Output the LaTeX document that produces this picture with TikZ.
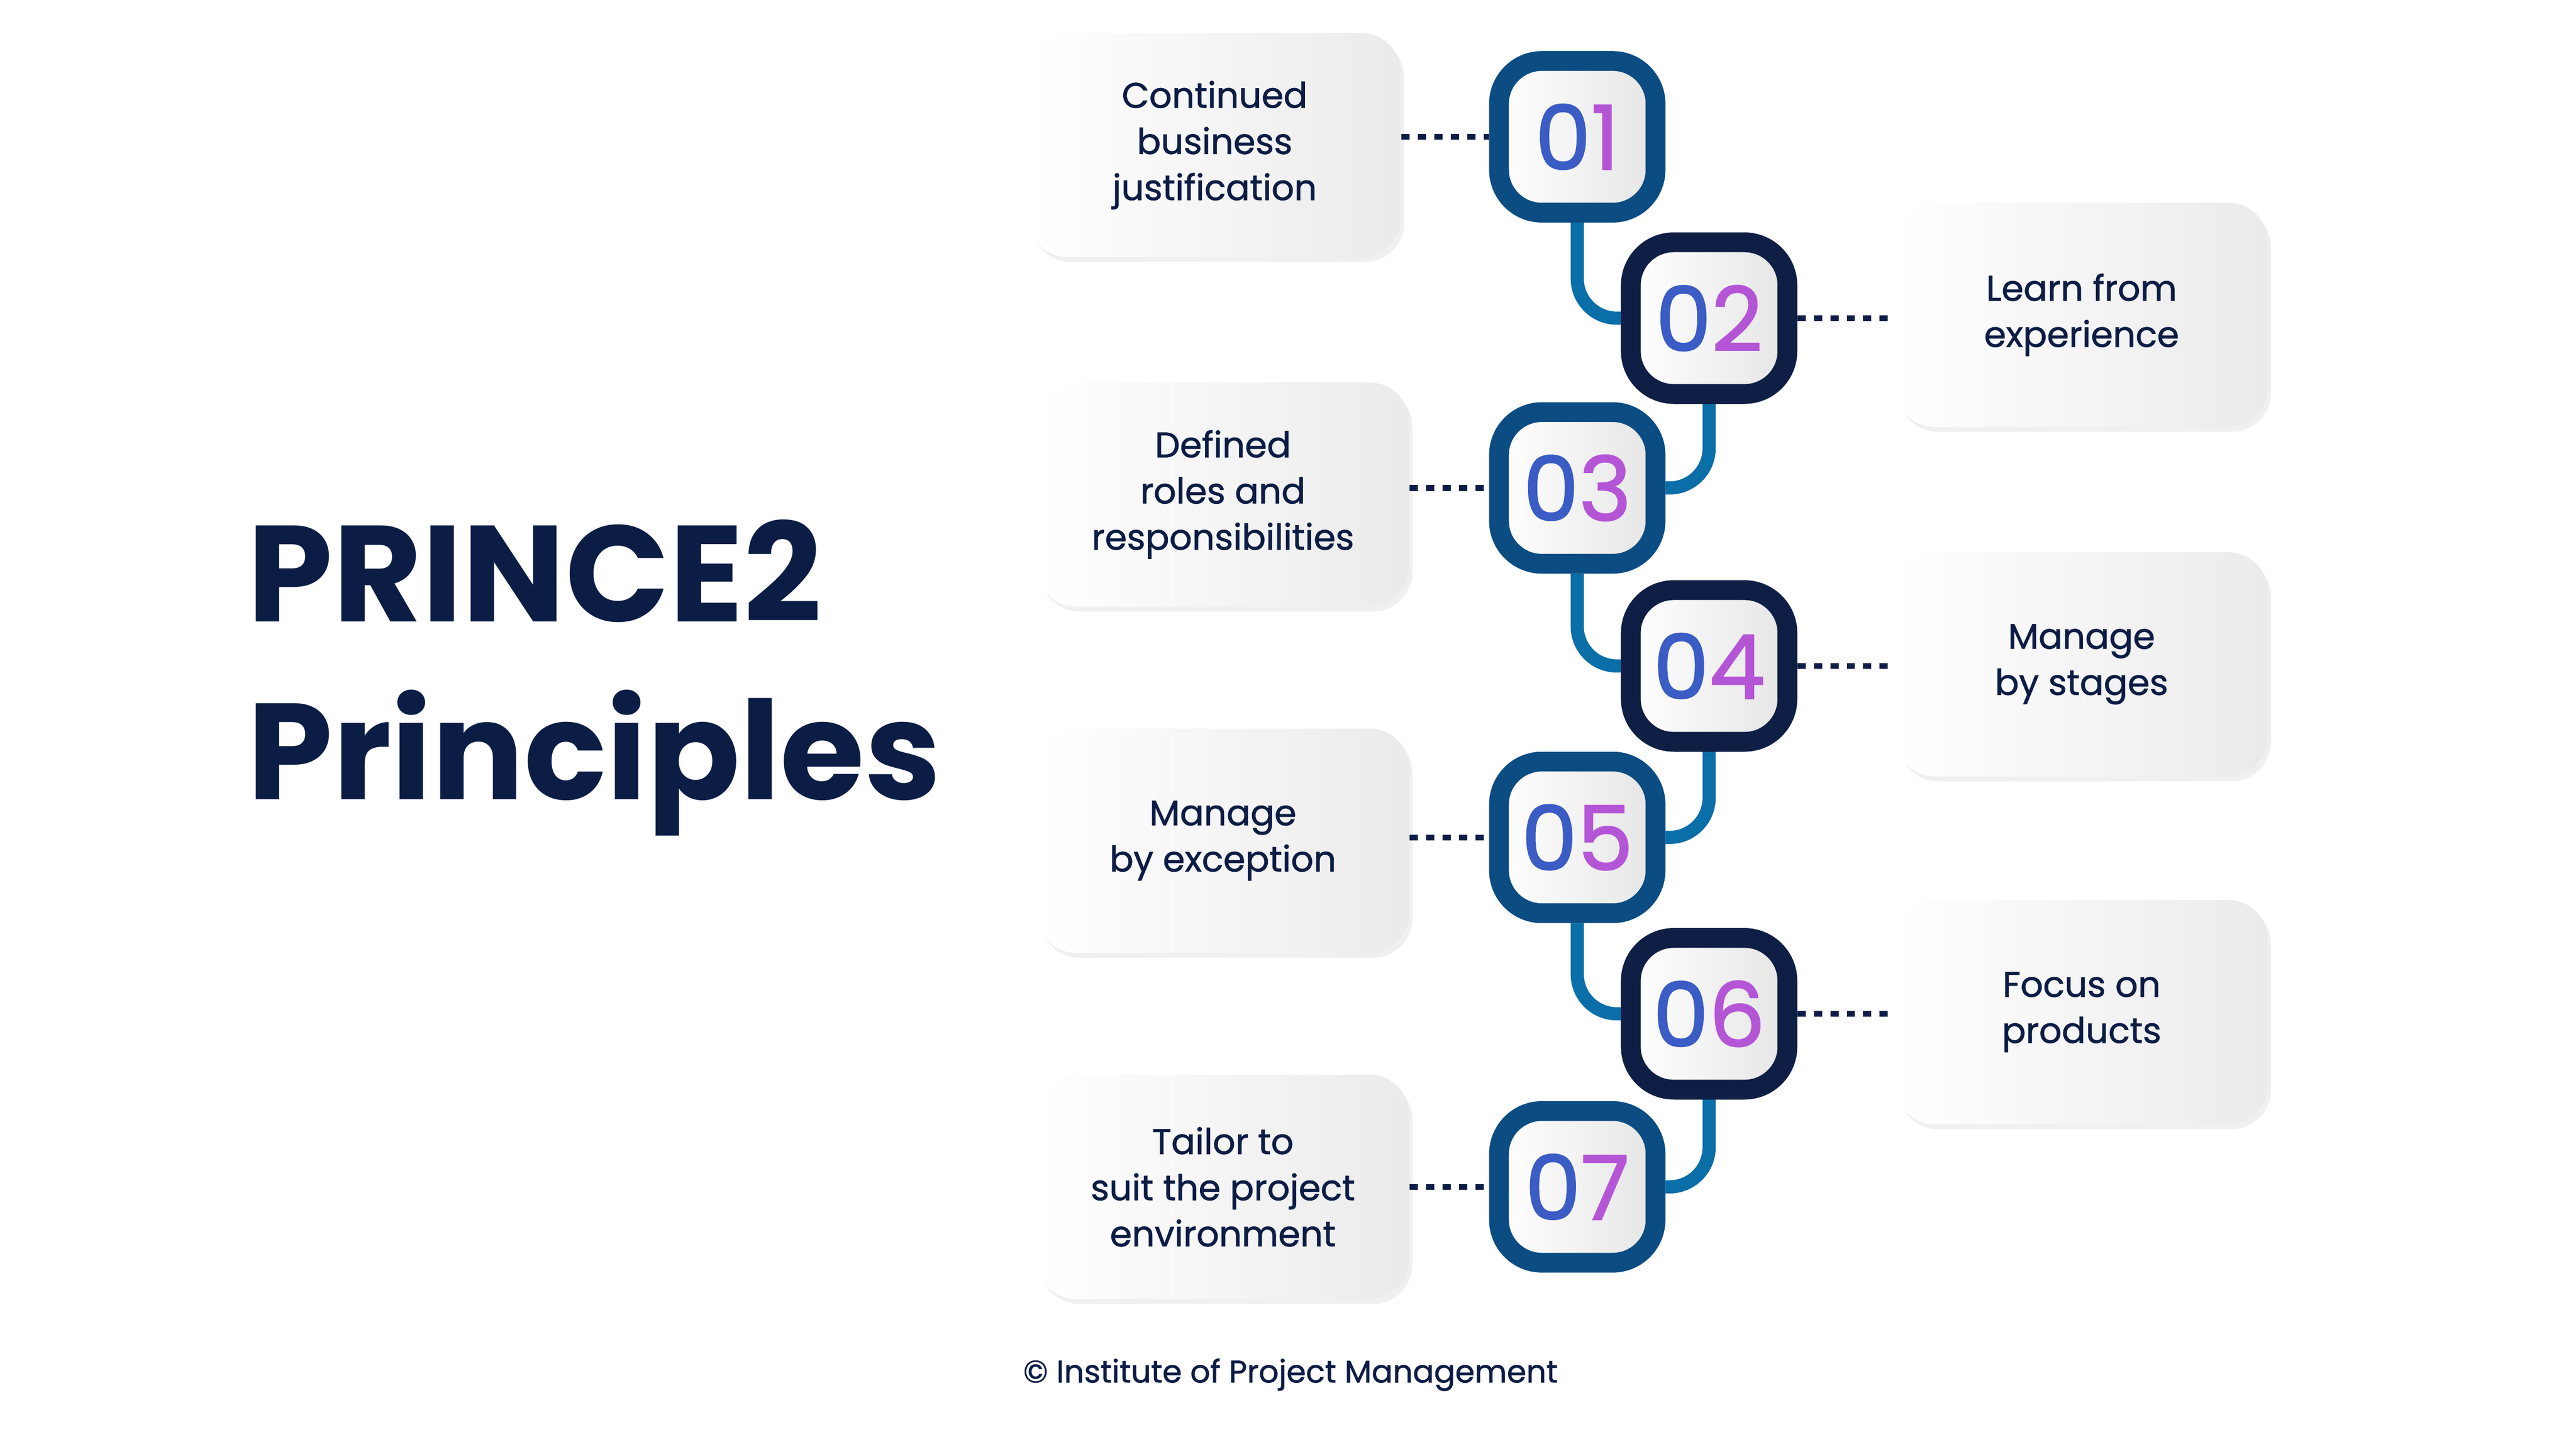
\documentclass[tikz,border=0pt]{standalone}
\usepackage{fontspec}
\setmainfont{Poppins}
\newfontfamily\lbl{Poppins}[FakeBold=1.2]
\newfontfamily\nmf{Poppins}[FakeBold=1.5]
\usetikzlibrary{shadows,backgrounds}
\definecolor{navy}{HTML}{0C1D45}
\definecolor{oddb}{HTML}{0B4C82}
\definecolor{evenb}{HTML}{0E1E45}
\definecolor{conn}{HTML}{0A6EA8}
\definecolor{dA}{HTML}{3A5CC4}
\definecolor{dB}{HTML}{B455D6}
\tikzset{
  box/.style={rounded corners=24pt, minimum width=226pt, minimum height=136pt,
    left color=white, right color=black!8, align=center, text=navy,
    font=\lbl\fontsize{21.5}{28}\selectfont,
    drop shadow={opacity=0.12, shadow xshift=2pt, shadow yshift=-3pt}},
  badge/.style={rounded corners=26pt, line width=12pt, minimum width=95pt, minimum height=92pt,
    left color=white, right color=black!10, font=\nmf\fontsize{54}{54}\selectfont},
  odd/.style={badge, draw=oddb},
  even/.style={badge, draw=evenb},
  dots/.style={navy, line width=3.5pt, dash pattern=on 5pt off 5pt},
  link/.style={conn, line width=8pt, rounded corners=24pt},
}
\newcommand{\num}[2]{\textcolor{dA}{#1}\textcolor{dB}{#2}}
\begin{document}
\begin{tikzpicture}[x=1pt,y=-1pt]
\useasboundingbox (0,0) rectangle (1563,879);
\node[anchor=base west, text=navy, font=\fontsize{83}{108}\selectfont\bfseries, align=left, inner sep=0] (title) at (150,485) {PRINCE2\\Principles};
% badges
\node[odd] (b1) at (957,83) {\num{0}{1}};
\node[even] (b2) at (1037,193) {\num{0}{2}};
\node[odd] (b3) at (957,296) {\num{0}{3}};
\node[even] (b4) at (1037,404) {\num{0}{4}};
\node[odd] (b5) at (957,508) {\num{0}{5}};
\node[even] (b6) at (1037,615) {\num{0}{6}};
\node[odd] (b7) at (957,720) {\num{0}{7}};
% boxes
\node[box] (t1) at (737,88) {Continued\\business\\justification};
\node[box] (t2) at (1263,191) {Learn from\\experience};
\node[box] (t3) at (742,300) {Defined\\roles and\\responsibilities};
\node[box] (t4) at (1263,403) {Manage\\by stages};
\node[box] (t5) at (742,510) {Manage\\by exception};
\node[box] (t6) at (1263,614) {Focus on\\products};
\node[box] (t7) at (742,720) {Tailor to\\suit the project\\environment};
\begin{scope}[on background layer]
\draw[link] (b1.south) |- (b2.west);
\draw[link] (b2.south) |- (b3.east);
\draw[link] (b3.south) |- (b4.west);
\draw[link] (b4.south) |- (b5.east);
\draw[link] (b5.south) |- (b6.west);
\draw[link] (b6.south) |- (b7.east);
\end{scope}
\draw[dots] (t1.east |- b1) -- (b1.west);
\draw[dots] (b2.east) -- (t2.west |- b2);
\draw[dots] (t3.east |- b3) -- (b3.west);
\draw[dots] (b4.east) -- (t4.west |- b4);
\draw[dots] (t5.east |- b5) -- (b5.west);
\draw[dots] (b6.east) -- (t6.west |- b6);
\draw[dots] (t7.east |- b7) -- (b7.west);
\node[text=navy, font=\lbl\fontsize{19}{22}\selectfont] (foot) at (783,834) {© Institute of Project Management};
\end{tikzpicture}
\end{document}
